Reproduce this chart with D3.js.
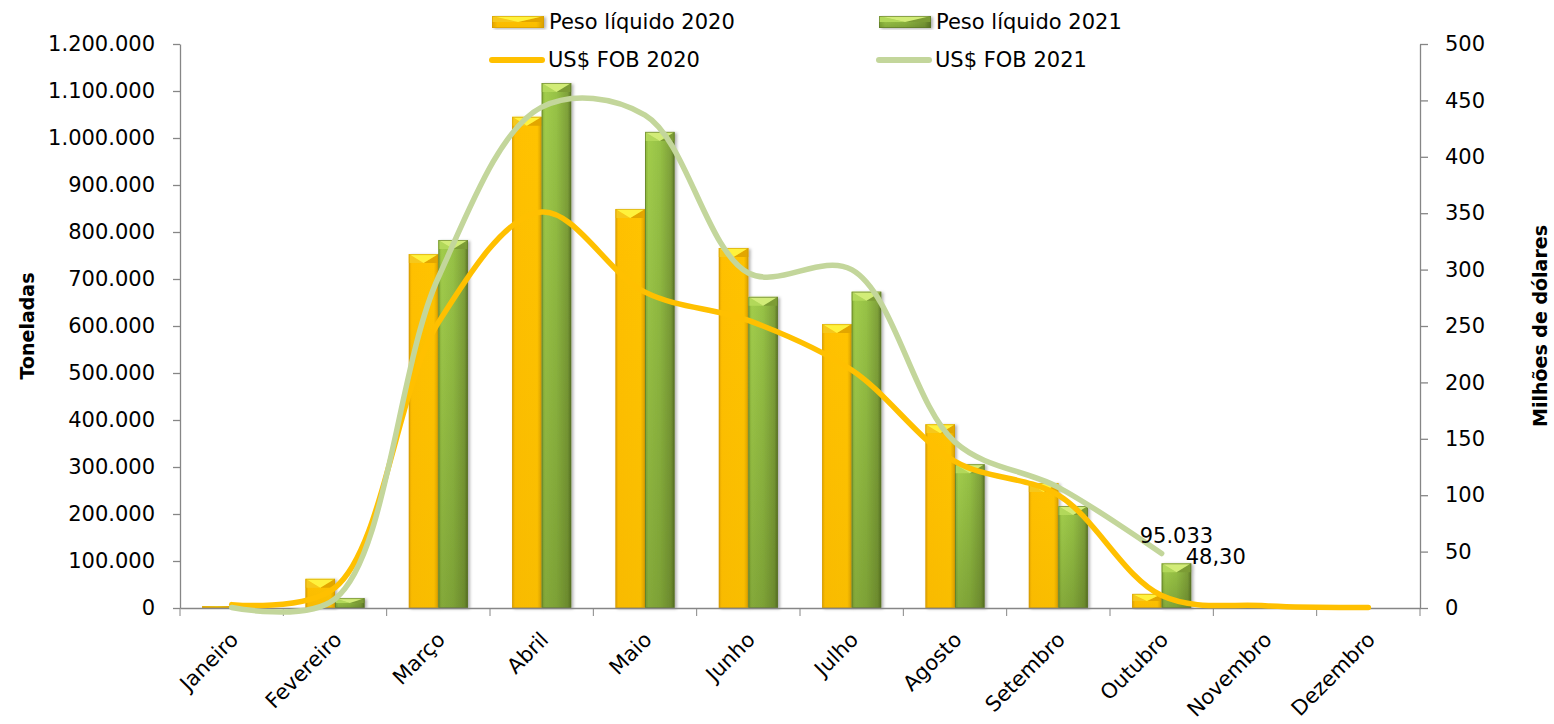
<!DOCTYPE html>
<html>
<head>
<meta charset="utf-8">
<script src="https://cdn.jsdelivr.net/npm/d3@7"></script>
<style>
  html, body { margin: 0; padding: 0; background: #fff; }
  svg { display: block; font-family: "DejaVu Sans", sans-serif; }
</style>
</head>
<body>
<svg id="chart" width="1554" height="724"></svg>
<script>
// ---------- DATA ----------
const months = ["Janeiro","Fevereiro","Março","Abril","Maio","Junho","Julho","Agosto","Setembro","Outubro","Novembro","Dezembro"];
const peso2020 = [4000, 62000, 753000, 1045000, 849000, 766000, 604000, 391000, 266000, 30000, 0, 0];
const peso2021 = [0, 21000, 783000, 1117000, 1013000, 662000, 673000, 306000, 217000, 95033];
const fob2020 = [3, 18, 253, 351, 280, 255, 211, 130, 100, 11, 2, 0.5];
const fob2021 = [0.5, 8, 293, 444, 437, 297, 300, 147, 107, 48.3];
const leftTicks = [0,100000,200000,300000,400000,500000,600000,700000,800000,900000,1000000,1100000,1200000];
const rightTicks = [0,50,100,150,200,250,300,350,400,450,500];
const seriesBars = ["Peso líquido 2020","Peso líquido 2021"];
const seriesLines = ["US$ FOB 2020","US$ FOB 2021"];
const leftTitle = "Toneladas";
const rightTitle = "Milhões de dólares";

// ---------- SETUP ----------
const svg = d3.select("#chart");
const X0 = 180, X1 = 1420, YT = 44, YB = 608;
const pt = d3.formatLocale({decimal: ",", thousands: ".", grouping: [3], currency: ["US$", ""]});
const fmtInt = pt.format(",d");
const fmt2 = pt.format(",.2f");

const x = d3.scaleBand().domain(months).range([X0, X1]).paddingInner(0).paddingOuter(0);
const xs = d3.scaleBand().domain(["2020","2021"]).range([0, x.bandwidth()]).paddingInner(0).paddingOuter(0.75);
const yL = d3.scaleLinear().domain([0, 1200000]).range([YB, YT]);
const yR = d3.scaleLinear().domain([0, 500]).range([YB, YT]);

const defs = svg.append("defs");
function hgrad(id, stops) {
  const g = defs.append("linearGradient").attr("id", id).attr("x1", 0).attr("x2", 1).attr("y1", 0).attr("y2", 0);
  stops.forEach(s => g.append("stop").attr("offset", s[0]).attr("stop-color", s[1]));
}
function vgrad(id, stops) {
  const g = defs.append("linearGradient").attr("id", id).attr("x1", 0).attr("x2", 0).attr("y1", 0).attr("y2", 1);
  stops.forEach(s => g.append("stop").attr("offset", s[0]).attr("stop-color", s[1]).attr("stop-opacity", s[2]));
}
hgrad("gY", [[0, "#E3A400"], [0.1, "#FFC000"], [0.85, "#FFC300"], [1, "#D9A000"]]);
hgrad("gG", [[0, "#86B038"], [0.12, "#A2CD4C"], [0.5, "#97C246"], [0.88, "#7FA13A"], [1, "#5C7628"]]);
vgrad("shadeG", [[0, "#3E5410", 0], [1, "#3E5410", 0.3]]);
vgrad("shadeY", [[0, "#B07A00", 0], [1, "#B07A00", 0.08]]);
const f = defs.append("filter").attr("id", "sh").attr("x", "-20%").attr("y", "-5%").attr("width", "150%").attr("height", "115%");
f.append("feDropShadow").attr("dx", 2).attr("dy", 1).attr("stdDeviation", 1.5).attr("flood-color", "#000").attr("flood-opacity", 0.3);

const styles = {
  "2020": {fill: "url(#gY)", shade: "url(#shadeY)", top: "#FFF23E", left: "#F6C81A", right: "#E2A600", stroke: "#D09A00"},
  "2021": {fill: "url(#gG)", shade: "url(#shadeG)", top: "#D2EC78", left: "#B2D85A", right: "#7C9C36", stroke: "#5A7326"}
};

function drawBar(g, bx, by, bw, bh, st) {
  if (bh <= 0) return;
  const grp = g.append("g").attr("filter", "url(#sh)");
  grp.append("rect").attr("x", bx).attr("y", by).attr("width", bw).attr("height", bh).attr("fill", st.fill);
  grp.append("rect").attr("x", bx).attr("y", by).attr("width", bw).attr("height", bh).attr("fill", st.shade);
  const h = Math.min(9, bh / 2);
  grp.append("polygon").attr("points", [[bx, by], [bx + bw / 2, by + h], [bx, by + h]].join(" ")).attr("fill", st.left);
  grp.append("polygon").attr("points", [[bx + bw, by], [bx + bw / 2, by + h], [bx + bw, by + h]].join(" ")).attr("fill", st.right);
  grp.append("polygon").attr("points", [[bx, by], [bx + bw, by], [bx + bw / 2, by + h]].join(" ")).attr("fill", st.top);
  grp.append("rect").attr("x", bx + 0.5).attr("y", by + 0.5).attr("width", bw - 1).attr("height", Math.max(0, bh - 1))
    .attr("fill", "none").attr("stroke", st.stroke).attr("stroke-width", 1).attr("stroke-opacity", 0.6);
}

// ---------- BARS ----------
const barsG = svg.append("g");
months.forEach((m, i) => {
  [["2020", peso2020[i]], ["2021", peso2021[i]]].forEach(([s, v]) => {
    if (v === undefined || v === null) return;
    const bx = x(m) + xs(s);
    drawBar(barsG, bx, yL(v), xs.bandwidth(), YB - yL(v), styles[s]);
  });
});

// ---------- AXES ----------
const axisColor = "#868686";
const gL = svg.append("g").attr("transform", `translate(${X0},0)`)
  .call(d3.axisLeft(yL).tickValues(leftTicks).tickFormat(fmtInt).tickSize(7).tickSizeOuter(0).tickPadding(18));
const gR = svg.append("g").attr("transform", `translate(${X1},0)`)
  .call(d3.axisRight(yR).tickValues(rightTicks).tickSize(8).tickSizeOuter(0).tickPadding(17));
const gB = svg.append("g").attr("transform", `translate(0,${YB})`)
  .call(d3.axisBottom(x).tickSize(0).tickSizeOuter(0).tickFormat(""));
// tick marks at category boundaries
const bounds = d3.range(months.length + 1).map(i => X0 + i * x.step());
gB.selectAll("line.bt").data(bounds).enter().append("line").attr("class", "bt")
  .attr("x1", d => d).attr("x2", d => d).attr("y1", 0).attr("y2", 8).attr("stroke", axisColor);
[gL, gR, gB].forEach(g => {
  g.selectAll("path.domain").attr("stroke", axisColor).attr("stroke-width", 1.3);
  g.selectAll(".tick line").attr("stroke", axisColor).attr("stroke-width", 1.3);
  g.selectAll(".tick text").attr("font-family", "DejaVu Sans").attr("font-size", 21).attr("fill", "#000");
});
// month labels
svg.append("g").selectAll("text").data(months).enter().append("text")
  .attr("transform", d => `translate(${x(d) + x.bandwidth() / 2 + 8},641) rotate(-45)`)
  .attr("text-anchor", "end").attr("font-size", 21).attr("fill", "#000").text(d => d);

// axis titles
svg.append("text").attr("transform", `translate(34,${(YT + YB) / 2}) rotate(-90)`)
  .attr("text-anchor", "middle").attr("font-weight", "bold").attr("font-size", 19).attr("fill", "#000").text(leftTitle);
svg.append("text").attr("transform", `translate(1547,${(YT + YB) / 2}) rotate(-90)`)
  .attr("text-anchor", "middle").attr("font-weight", "bold").attr("font-size", 19).attr("fill", "#000").text(rightTitle);

// ---------- LINES ----------
const cx = i => x(months[i]) + x.bandwidth() / 2;
const line = d3.line().x((d, i) => cx(i)).y(d => yR(d)).curve(d3.curveCatmullRom.alpha(0.5));
svg.append("path").datum(fob2020).attr("d", line).attr("fill", "none")
  .attr("stroke", "#FFC000").attr("stroke-width", 5.5).attr("stroke-linecap", "round").attr("stroke-linejoin", "round");
svg.append("path").datum(fob2021).attr("d", line).attr("fill", "none")
  .attr("stroke", "#C3D69B").attr("stroke-width", 5.5).attr("stroke-linecap", "round").attr("stroke-linejoin", "round");

// ---------- DATA LABELS ----------
const lastI = peso2021.length - 1;
svg.append("text").attr("x", x(months[lastI]) + xs("2021") + xs.bandwidth() / 2).attr("y", yL(peso2021[lastI]) - 20)
  .attr("text-anchor", "middle").attr("font-size", 21).attr("fill", "#000").text(fmtInt(peso2021[lastI]));
const lastL = fob2021.length - 1;
svg.append("text").attr("x", cx(lastL) + 24).attr("y", yR(fob2021[lastL]) + 10)
  .attr("text-anchor", "start").attr("font-size", 21).attr("fill", "#000").text(fmt2(fob2021[lastL]));

// ---------- LEGEND ----------
const lg = svg.append("g");
const legBars = [{x: 492, s: "2020", label: seriesBars[0]}, {x: 879, s: "2021", label: seriesBars[1]}];
legBars.forEach(d => {
  drawBar(lg, d.x, 16, 52, 12, styles[d.s]);
  lg.append("text").attr("x", d.x + 57).attr("y", 22).attr("dy", "0.35em").attr("font-size", 21).attr("fill", "#000").text(d.label);
});
const legLines = [{x: 489, c: "#FFC000", label: seriesLines[0]}, {x: 876, c: "#C3D69B", label: seriesLines[1]}];
legLines.forEach(d => {
  lg.append("line").attr("x1", d.x + 3).attr("x2", d.x + 53).attr("y1", 60).attr("y2", 60)
    .attr("stroke", d.c).attr("stroke-width", 6).attr("stroke-linecap", "round");
  lg.append("text").attr("x", d.x + 59).attr("y", 60).attr("dy", "0.35em").attr("font-size", 21).attr("fill", "#000").text(d.label);
});
</script>
</body>
</html>
